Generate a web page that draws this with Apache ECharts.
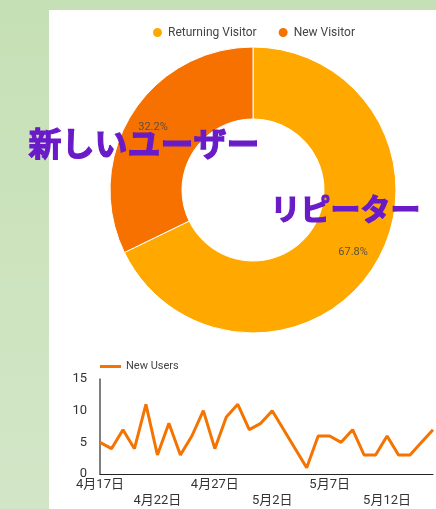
<!DOCTYPE html>
<html>
<head>
<meta charset="utf-8">
<script src="https://cdn.jsdelivr.net/npm/echarts@6/dist/echarts.min.js"></script>
<style>
    html, body { margin: 0; padding: 0; }
    body {
        width: 436px; height: 509px; position: relative; overflow: hidden;
        background: linear-gradient(to bottom, #c6e0b5, #d2e6c7);
    }
    .panel { position: absolute; left: 49px; top: 10px; right: 0; bottom: 0; background: #fff; }
    #chart { position: absolute; left: 0; top: 0; width: 436px; height: 509px; }
</style>
</head>
<body>
<div class="panel"></div>
<div id="chart"></div>
<script>
// 訪問者の内訳（%）
const visitorNames = ['Returning Visitor', 'New Visitor'];
const visitorShares = [67.8, 32.2];
const visitorColors = ['#ffa900', '#f67100'];

// 日別の新規ユーザー
const dayLabels = [
    '4月17日', '4月18日', '4月19日', '4月20日', '4月21日', '4月22日', '4月23日', '4月24日',
    '4月25日', '4月26日', '4月27日', '4月28日', '4月29日', '4月30日', '5月1日', '5月2日',
    '5月3日', '5月4日', '5月5日', '5月6日', '5月7日', '5月8日', '5月9日', '5月10日',
    '5月11日', '5月12日', '5月13日', '5月14日', '5月15日', '5月16日'
];
const newUsers = [5, 4, 7, 4, 11, 3, 8, 3, 6, 10, 4, 9, 11, 7, 8, 10, 7, 4, 1, 6, 6, 5, 7, 3, 3, 6, 3, 3, 5, 7];
const yTicks = [0, 5, 10, 15];

const FONT = 'Roboto, "Noto Sans CJK JP", sans-serif';
const JP_BOLD = '"Noto Sans CJK JP", sans-serif';
const PURPLE = '#6a1bc8';
const PIE_CENTER = [253, 190];

const chart = echarts.init(document.getElementById('chart'));
chart.setOption({
    backgroundColor: 'transparent',
    animation: false,
    textStyle: { fontFamily: FONT },
    legend: [
        {
            data: visitorNames,
            top: 21, left: 146,
            icon: 'circle', itemWidth: 11, itemHeight: 11, itemGap: 20,
            textStyle: { color: '#444', fontSize: 12, fontFamily: FONT }
        },
        {
            data: [{ name: 'New Users', icon: 'rect' }],
            top: 356, left: 95,
            itemWidth: 21, itemHeight: 3, itemGap: 5,
            textStyle: { color: '#444', fontSize: 11, fontFamily: FONT }
        }
    ],
    grid: { left: 100, right: 3, top: 379, bottom: 34 },
    xAxis: {
        type: 'category',
        data: dayLabels,
        boundaryGap: false,
        axisTick: { show: false },
        axisLine: { lineStyle: { color: '#222', width: 1 } },
        axisLabel: {
            interval: 4,
            margin: 3,
            color: '#333',
            fontSize: 13,
            lineHeight: 16,
            fontFamily: FONT,
            formatter: (v, i) => (Math.round(i / 5) % 2 === 1 ? '\n' + v : v)
        }
    },
    yAxis: {
        type: 'value',
        min: yTicks[0], max: yTicks[yTicks.length - 1], interval: 5,
        splitLine: { show: false },
        axisTick: { show: false },
        axisLine: { show: true, lineStyle: { color: '#555', width: 1.5 } },
        axisLabel: { color: '#333', fontSize: 13, margin: 13, fontFamily: FONT }
    },
    series: [
        {
            type: 'pie',
            center: PIE_CENTER,
            radius: [71, 143],
            startAngle: 90,
            clockwise: true,
            avoidLabelOverlap: false,
            itemStyle: { borderColor: '#fff', borderWidth: 1 },
            label: {
                position: 'inside',
                color: '#5a5040',
                fontSize: 11,
                fontFamily: FONT,
                formatter: p => p.value.toFixed(1) + '%'
            },
            // ラベルを少し外側へずらす
            labelLayout: p => {
                const cx = p.labelRect.x + p.labelRect.width / 2 - PIE_CENTER[0];
                const cy = p.labelRect.y + p.labelRect.height / 2 - PIE_CENTER[1];
                const len = Math.sqrt(cx * cx + cy * cy) || 1;
                return { dx: cx / len * 8, dy: cy / len * 8 };
            },
            labelLine: { show: false },
            data: visitorNames.map((n, i) => ({ name: n, value: visitorShares[i], itemStyle: { color: visitorColors[i] } }))
        },
        {
            name: 'New Users',
            type: 'line',
            data: newUsers,
            symbol: 'none',
            lineStyle: { color: '#f57300', width: 3 },
            itemStyle: { color: '#f57300' }
        }
    ],
    graphic: [
        {
            type: 'text', left: 28, top: 126, z: 100,
            style: { text: '新しいユーザー', fill: PURPLE, stroke: PURPLE, lineWidth: 1.2, font: 'bold 33px ' + JP_BOLD }
        },
        {
            type: 'text', left: 270, top: 193, z: 100,
            style: { text: 'リピーター', fill: PURPLE, stroke: PURPLE, lineWidth: 1.2, font: 'bold 30px ' + JP_BOLD }
        }
    ]
});
</script>
</body>
</html>
